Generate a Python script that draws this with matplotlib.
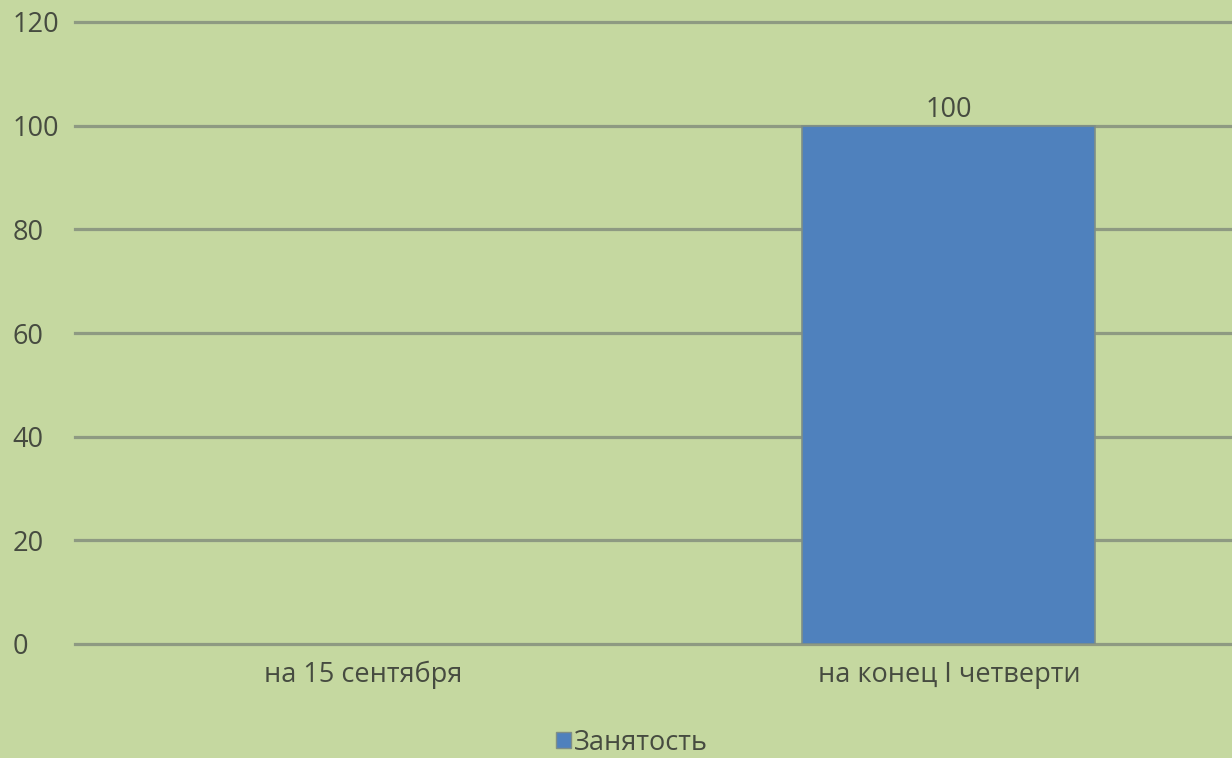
import numpy as np
import matplotlib.pyplot as plt
from matplotlib.patches import Patch

plt.rcParams['font.family'] = ['Open Sans', 'DejaVu Sans']

# данные
categories = ['на 15 сентября', 'на конец I четверти']
values = [np.nan, 100]  # на 15 сентября данных нет
series_name = 'Занятость'
y_ticks = [0, 20, 40, 60, 80, 100, 120]

bg = '#c5d8a0'
bar_color = '#4f81bd'
text_color = '#464b40'
grid_color = '#8e9a82'
fs = 19.5

fig = plt.figure(figsize=(12.32, 7.58), dpi=100)
fig.patch.set_facecolor(bg)
ax = fig.add_axes([75 / 1232, 114 / 758, 1157 / 1232, 622 / 758])
ax.set_facecolor(bg)

x = np.arange(len(categories))
bars = ax.bar(x, values, width=0.5, color=bar_color, edgecolor='#7f8f86',
              linewidth=1.2, zorder=3)

for xi, v in zip(x, values):
    if not np.isnan(v):
        ax.text(xi, v + 0.4, f'{v:g}', ha='center', va='bottom',
                fontsize=fs, color=text_color)

ax.set_ylim(0, 120)
ax.set_xlim(-0.4915, 1.483)
ax.set_yticks(y_ticks)
ax.set_xticks(x)
ax.set_xticklabels(categories)
ax.tick_params(axis='both', length=0, labelsize=fs, colors=text_color)
ax.tick_params(axis='y', pad=45)
ax.tick_params(axis='x', pad=12)
for t in ax.get_yticklabels():
    t.set_horizontalalignment('left')
ax.grid(axis='y', color=grid_color, linewidth=2.3, zorder=0)
for gl in ax.get_ygridlines():
    gl.set_clip_on(False)
for s in ax.spines.values():
    s.set_visible(False)
ax.set_axisbelow(True)

handle = Patch(facecolor=bar_color, edgecolor='#7f8f86', label=series_name)
fig.legend(handles=[handle], loc='center', bbox_to_anchor=(0.513, 0.02),
           frameon=False, fontsize=fs, labelcolor=text_color,
           handlelength=0.55, handleheight=0.55, handletextpad=0.1)

fig.savefig('out.png', dpi=100, facecolor=bg)
